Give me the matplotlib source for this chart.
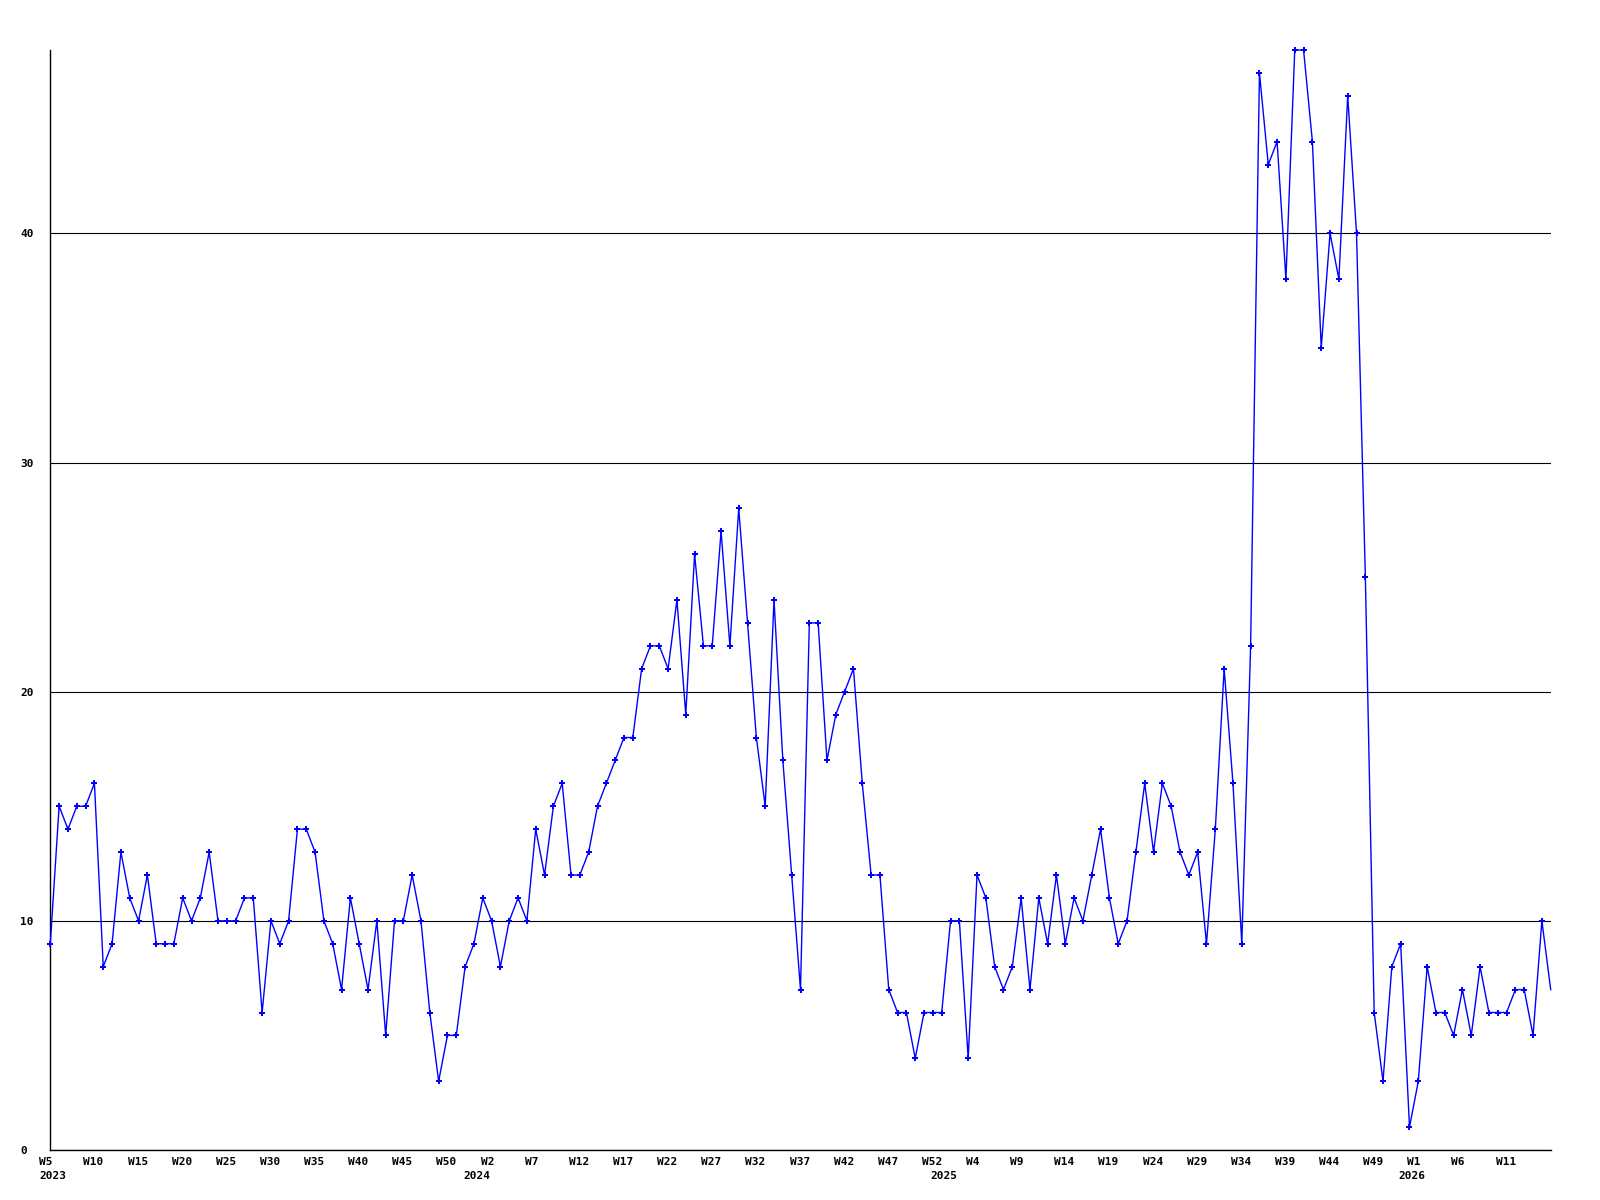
import matplotlib
matplotlib.use("Agg")
import matplotlib.pyplot as plt
from matplotlib.transforms import ScaledTranslation

# ---- data (weekly counts, 2023 W5 onwards) ----
values = [
    9, 15, 14, 15, 15, 16, 8, 9, 13, 11, 10, 12, 9, 9, 9, 11, 10, 11, 13, 10,
    10, 10, 11, 11, 6, 10, 9, 10, 14,
    14, 13, 10, 9, 7, 11, 9, 7, 10, 5, 10, 10, 12, 10, 6, 3, 5, 5, 8, 9, 11,
    10, 8, 10, 11, 10, 14, 12, 15, 16, 12, 12,
    13, 15, 16, 17, 18, 18, 21, 22, 22, 21, 24, 19, 26, 22, 22, 27, 22, 28, 23,
    18, 15, 24, 17, 12, 7, 23, 23, 17, 19,
    20, 21, 16, 12, 12, 7, 6, 6, 4, 6, 6, 6, 10, 10, 4, 12, 11, 8, 7, 8, 11,
    7, 11, 9, 12, 9, 11, 10, 12, 14, 11, 9,
    10, 13, 16, 13, 16, 15, 13, 12, 13, 9, 14, 21, 16, 9, 22,
    47, 43, 44, 38, 48, 48, 44, 35, 40, 38, 46, 40, 25,
    6, 3, 8, 9, 1, 3, 8, 6, 6, 5, 7, 5, 8, 6, 6, 6, 7, 7, 5, 10, 7,
]
week_labels = ["W5", "W10", "W15", "W20", "W25", "W30", "W35", "W40", "W45", "W50",
               "W2", "W7", "W12", "W17", "W22", "W27", "W32", "W37", "W42", "W47", "W52",
               "W4", "W9", "W14", "W19", "W24", "W29", "W34", "W39", "W44", "W49",
               "W1", "W6", "W11"]
week_label_pos = list(range(0, 5 * len(week_labels), 5))
year_labels = ["2023", "2024", "2025", "2026"]
year_label_pos = [0, 48, 101, 154]
y_ticks = [0, 10, 20, 30, 40]

DPI = 100
fig = plt.figure(figsize=(16, 12), dpi=DPI)
W, H = 1600, 1200
x0, x1 = 50.3, 1550.7
y0, y1 = 1150, 50
ax = fig.add_axes([x0 / W, 1 - y0 / H, (x1 - x0) / W, (y0 - y1) / H])

xs = list(range(len(values)))
ax.plot(xs, values, color="#0000ff", lw=1.0, marker="P", markersize=4.6,
        markeredgewidth=0, markerfacecolor="#0000ff",
        markevery=list(range(len(values) - 1)), clip_on=False, zorder=3)

ax.set_xlim(0, len(values) - 1)
ax.set_ylim(0, 48)

for s in ["top", "right"]:
    ax.spines[s].set_visible(False)
for s in ["left", "bottom"]:
    ax.spines[s].set_color("black")
    ax.spines[s].set_linewidth(1.0)

font = dict(family="DejaVu Sans Mono", weight="bold", size=8, color="black")

# y ticks
ax.set_yticks(y_ticks)
ax.set_yticklabels([str(v) for v in y_ticks], **font)
ax.tick_params(axis="y", length=0, pad=30 * 72 / DPI)
for lbl in ax.get_yticklabels():
    lbl.set_horizontalalignment("left")
ax.yaxis.grid(True, color="black", linewidth=0.8)
ax.set_axisbelow(True)

# x ticks / labels
ax.set_xticks([])
tr_week = ax.get_xaxis_transform() + ScaledTranslation(-11 / DPI, -7 / DPI, fig.dpi_scale_trans)
for p, lab in zip(week_label_pos, week_labels):
    ax.text(p, 0, lab, transform=tr_week, ha="left", va="top", **font)
tr_year = ax.get_xaxis_transform() + ScaledTranslation(-11 / DPI, -21 / DPI, fig.dpi_scale_trans)
for p, lab in zip(year_label_pos, year_labels):
    ax.text(p, 0, lab, transform=tr_year, ha="left", va="top", **font)

fig.savefig("out.png", dpi=DPI, facecolor="white")
